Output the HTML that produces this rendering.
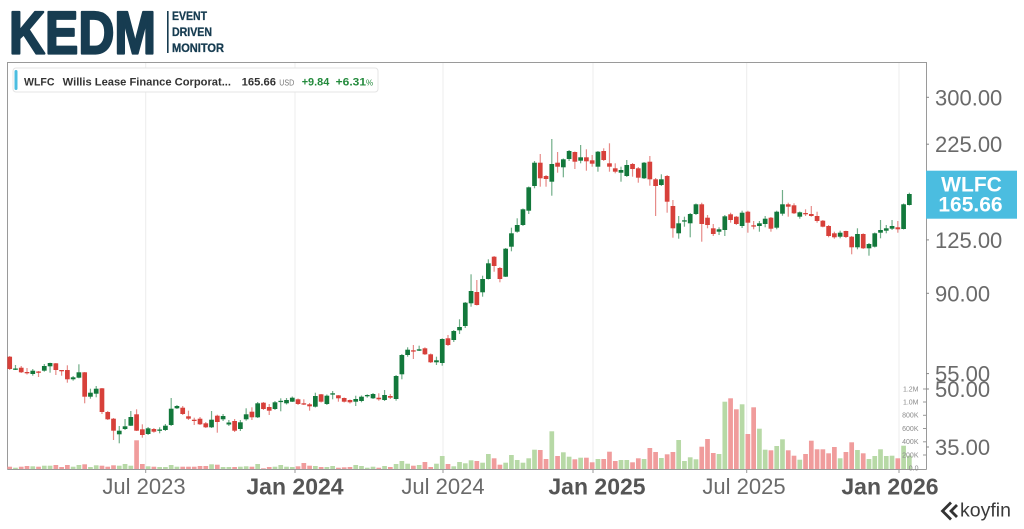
<!DOCTYPE html>
<html>
<head>
<meta charset="utf-8">
<style>
  html,body{margin:0;padding:0;background:#fff;}
  body{width:1024px;height:529px;overflow:hidden;}
  svg{display:block;font-family:"Liberation Sans",Arial,sans-serif;}
</style>
</head>
<body>
<svg id="chart" width="1024" height="529" viewBox="0 0 1024 529" xmlns="http://www.w3.org/2000/svg">
  <rect x="0" y="0" width="1024" height="529" fill="#fff"/>

  <!-- KEDM logo -->
  <text x="9" y="53.5" font-size="60" font-weight="bold" fill="#173c51" stroke="#173c51" stroke-width="2.2" stroke-linejoin="round" textLength="147" lengthAdjust="spacingAndGlyphs">KEDM</text>
  <rect x="167" y="11" width="1.6" height="42" fill="#173c51"/>
  <text x="172" y="20" font-size="11.5" font-weight="bold" fill="#173c51" stroke="#173c51" stroke-width="0.3" textLength="35" lengthAdjust="spacingAndGlyphs">EVENT</text>
  <text x="172" y="36" font-size="11.5" font-weight="bold" fill="#173c51" stroke="#173c51" stroke-width="0.3" textLength="40" lengthAdjust="spacingAndGlyphs">DRIVEN</text>
  <text x="172" y="52" font-size="11.5" font-weight="bold" fill="#173c51" stroke="#173c51" stroke-width="0.3" textLength="52" lengthAdjust="spacingAndGlyphs">MONITOR</text>

  <!-- gridlines -->
  <g stroke="#ececec" stroke-width="1">
    <line x1="145.7" y1="63" x2="145.7" y2="469"/>
    <line x1="295" y1="63" x2="295" y2="469"/>
    <line x1="443" y1="63" x2="443" y2="469"/>
    <line x1="593" y1="63" x2="593" y2="469"/>
    <line x1="746.7" y1="63" x2="746.7" y2="469"/>
    <line x1="899" y1="63" x2="899" y2="469"/>
  </g>

  <!-- frame -->
  <g stroke="#9a9a9a" stroke-width="1" fill="none">
    <line x1="7.5" y1="62.5" x2="926.5" y2="62.5"/>
    <line x1="7.5" y1="62" x2="7.5" y2="469.5"/>
    <line x1="926.5" y1="62" x2="926.5" y2="469.5"/>
    <line x1="7.5" y1="469.5" x2="926.5" y2="469.5"/>
  </g>
  <!-- x ticks -->
  <g stroke="#9a9a9a" stroke-width="1">
    <line x1="145.7" y1="469" x2="145.7" y2="473"/>
    <line x1="295" y1="469" x2="295" y2="473"/>
    <line x1="443" y1="469" x2="443" y2="473"/>
    <line x1="593" y1="469" x2="593" y2="473"/>
    <line x1="746.7" y1="469" x2="746.7" y2="473"/>
    <line x1="899" y1="469" x2="899" y2="473"/>
  </g>

  <!-- volume and candles -->
  <g id="vol"></g>
  <g id="candles"></g>

  <!-- legend -->
  <rect x="13" y="68" width="365" height="24" rx="3" fill="#fff" stroke="#e4e4e4"/>
  <rect x="14.5" y="70" width="3" height="20" rx="1.5" fill="#4bbde0"/>
  <text x="24" y="85.5" font-size="11" font-weight="bold" fill="#333" textLength="30.5" lengthAdjust="spacingAndGlyphs">WLFC</text>
  <text x="62.7" y="85.5" font-size="11" font-weight="bold" fill="#333" textLength="168.3" lengthAdjust="spacingAndGlyphs">Willis Lease Finance Corporat...</text>
  <text x="241.7" y="85.5" font-size="11" font-weight="bold" fill="#333" textLength="34.3" lengthAdjust="spacingAndGlyphs">165.66</text>
  <text x="279.3" y="85.5" font-size="8" fill="#777" textLength="15" lengthAdjust="spacingAndGlyphs">USD</text>
  <text x="301.7" y="85.5" font-size="11" font-weight="bold" fill="#238a3c" textLength="27.6" lengthAdjust="spacingAndGlyphs">+9.84</text>
  <text x="335.7" y="85.5" font-size="11" font-weight="bold" fill="#238a3c" textLength="30.3" lengthAdjust="spacingAndGlyphs">+6.31</text>
  <text x="366" y="85.5" font-size="8" fill="#238a3c">%</text>

  <!-- right price axis -->
  <g stroke="#888" stroke-width="1">
    <line x1="926" y1="97.3" x2="929" y2="97.3"/>
    <line x1="926" y1="144.2" x2="929" y2="144.2"/>
    <line x1="926" y1="239.9" x2="929" y2="239.9"/>
    <line x1="926" y1="293.3" x2="929" y2="293.3"/>
    <line x1="926" y1="373.6" x2="929" y2="373.6"/>
    <line x1="926" y1="389" x2="929" y2="389"/>
    <line x1="926" y1="447" x2="929" y2="447"/>
  </g>
  <g font-size="22" fill="#6a6a6a">
    <text x="935" y="105.3">300.00</text>
    <text x="935" y="152.2">225.00</text>
    <text x="935" y="247.9">125.00</text>
    <text x="935" y="301.3">90.00</text>
    <text x="935" y="381.6">55.00</text>
    <text x="935" y="397">50.00</text>
    <text x="935" y="455">35.00</text>
  </g>

  <!-- WLFC price box -->
  <rect x="926" y="170.7" width="91" height="48" fill="#4bbde0"/>
  <text x="971.5" y="191.5" font-size="21" font-weight="bold" fill="#fff" text-anchor="middle">WLFC</text>
  <text x="970.5" y="211.5" font-size="21" font-weight="bold" fill="#fff" text-anchor="middle">165.66</text>

  <!-- volume axis -->
  <g font-size="7" fill="#8a8a8a" text-anchor="end">
    <text x="918.5" y="391.5">1.2M</text>
    <text x="918.5" y="404.5">1.0M</text>
    <text x="918.5" y="417.7">800K</text>
    <text x="918.5" y="431">600K</text>
    <text x="918.5" y="444">400K</text>
    <text x="918.5" y="457.5">200K</text>
    <text x="918.5" y="470.5">0.0</text>
  </g>
  <g stroke="#999" stroke-width="1">
    <line x1="923" y1="389" x2="926" y2="389"/>
    <line x1="923" y1="402" x2="926" y2="402"/>
    <line x1="923" y1="415.3" x2="926" y2="415.3"/>
    <line x1="923" y1="428.5" x2="926" y2="428.5"/>
    <line x1="923" y1="441.8" x2="926" y2="441.8"/>
    <line x1="923" y1="455" x2="926" y2="455"/>
  </g>

  <!-- x axis labels -->
  <g font-size="22" fill="#6a6a6a" text-anchor="middle">
    <text x="144" y="494">Jul 2023</text>
    <text x="443" y="494">Jul 2024</text>
    <text x="744" y="494">Jul 2025</text>
  </g>
  <g font-size="23" font-weight="bold" fill="#555" text-anchor="middle">
    <text x="295" y="494.5">Jan 2024</text>
    <text x="597" y="494.5">Jan 2025</text>
    <text x="890" y="494.5">Jan 2026</text>
  </g>

  <!-- koyfin logo -->
  <g fill="none" stroke="#333" stroke-width="2.8" stroke-linejoin="miter">
    <polyline points="951,502.5 942.5,511 951,519.5"/>
    <polyline points="957,505 951,511 957,517"/>
  </g>
  <text x="960" y="516.7" font-size="19.5" fill="#3a3a3a" textLength="51" lengthAdjust="spacingAndGlyphs">koyfin</text>
</svg>

<script>
(function(){
var D=[
[356.7,369,356,370],[369.5,368.5,365,370],[367.7,372.3,366,373],[372,373,368,374.5],[374,370.7,369,375.7],
[371.5,372.5,371,377],[370.7,366,364,371.7],[366.3,363,362.7,372.7],[363.3,370,363,375],[370,371,370,375.7],
[370,379.3,365.3,382.7],[379.3,377.3,376,380.7],[377.7,372.3,364.3,378.3],[372.3,396.7,372,403.3],[396.7,392.7,388.7,398.7],
[393.7,388.7,386,397.3],[388.3,412,388,414],[412,419.3,411,420],[418.7,430.7,418,440],[434.3,430.7,426,443.3],
[429,426.3,419,430],[425.7,417,411,426],[414.3,430.7,409.3,431],[429.3,435,424.3,437.7],[434,428.3,427,435],
[429,431.7,428,432.7],[430.5,429.5,427.3,433.3],[430,425.7,424,431],[425,408.7,398,426],[408.3,406,405,409],
[407.7,414,406,415],[416.3,418.7,410.7,420],[419.7,420.3,417.7,425],[418.7,424.3,417,425],[423.3,427.3,422,428],
[427.3,419.7,411,428],[415.7,422,414.7,432.7],[419.3,416,414,421],[424.5,422.5,420,426],[421,430.7,419,432],
[429,422.3,420,431],[419.3,414.3,408.3,420.7],[411.7,417.3,407.3,420],[417.3,403.3,402,418],[402.7,409,402,410],
[407,410.7,404,415],[409,402.3,401,410],[401.5,400.8,398.3,411.3],[403.3,400,398,404.5],[401.7,397.7,396.5,402],
[399.3,404,398.5,405],[403.3,404,399.3,405],[404.3,406.3,403,410.7],[406.7,396,392.7,407.5],[394.3,401.7,394,402.5],
[404,395.7,394.5,405],[394.3,393.3,391,399.3],[395.3,398.3,395,401.7],[398,401.7,397.5,402.5],[400,402.3,399.5,403.5],
[401.7,399,395.7,406],[401,396.7,395.5,402.3],[395.7,395,394.3,397.7],[398.3,394,393,399],[397.7,399.3,393.3,400.7],
[400,395,390,401],[396,397.7,394,399],[399,376,375,400.7],[374.3,355,354,379.3],[355,349.7,347.3,356.7],
[350.3,351,345,359],[350.7,349.3,345.7,351],[348.3,354.3,347.3,355],[354.3,362.3,353.5,363],[362.3,360.3,356.7,365],
[363,339,338.3,365.7],[338.3,345,335,346],[340,331,330,342],[330.3,327,319.3,334],[326,302.7,302,328],
[303.3,291,274.3,306.7],[292,305,280,305.5],[292.3,279,275.7,296.7],[279,263.3,259.3,279.5],[256.7,266,256,271.7],
[268,279,267,282.3],[276.7,248.7,248,277],[246.7,233.3,227.7,251.3],[231.7,225,218.3,232.7],[225,209.3,208.5,226],
[210.7,187.3,186.5,214],[186,162.7,161,188.3],[162.7,178.3,154,186.7],[176,179,175,186.7],[181.7,164,139,195.7],
[162.7,166.7,152,172.7],[167.3,159.3,158.5,177.3],[159,151,150,161],[152,161.7,151.5,169],[160.7,157.3,145,163.3],
[157.3,161.3,149.3,170.7],[160.3,163.7,155,166.7],[166.7,151.7,151,171.7],[151,160,148.3,161],[163.3,166.7,143.3,171.7],
[168.3,171.7,163.3,173.3],[172.7,170,166.7,181.7],[176,165,160,177],[164,169,163,176.7],[168.3,177.7,167,182.7],
[178.3,162.7,162,179],[161.7,179.3,156,185.7],[179.3,186,178,216],[185,179.3,174.3,186],[176,201.7,175,212.7],
[206,228.3,200,237.7],[233.3,223.3,216,238.7],[221.3,220.3,216.7,226.7],[223.3,214,213,237.3],[214,204.3,203.5,215],
[204.3,224,202.7,241.7],[217.7,225,215,228.3],[228.3,234,224,236],[231.7,229.3,227.3,235],[230,216.3,215,236],
[214.3,220,212.7,222.7],[216.7,224,216,225],[226,212.7,210.7,228],[211.7,222.7,210.7,232.7],[225.3,226,221,229.3],
[226,223.3,221,231.7],[224,218.7,216,227.3],[217.7,228.7,217,231.7],[227.7,211.7,210.7,229.3],[213.7,204.3,190,215.7],
[204.3,206.7,202.7,216.7],[205.3,213.3,203.3,214],[216.7,212.3,211.5,218.7],[213,213.7,209.3,216],[214,216,206,216.7],
[216,221,211.7,222.7],[220.7,226.7,220,227.3],[226,236,225,237.3],[233.3,237.3,231.7,238.7],[236.7,232.7,230.7,238.3],
[231,237,230.7,238],[236.7,247.3,236,254.3],[247.3,234,228.3,249.3],[234,248.3,233.3,249],[248.3,244,243,255.7],
[246.7,233.3,232.5,247.5],[232.7,230,220,238.3],[230.7,228.3,225,233.3],[228.7,226,220,230],[227.3,229.3,221,232.7],
[229,204.3,203.5,229.5],[205,194,192.7,205.5]
];
var V=[
466.7,467.7,466.7,466,466.3,466.7,465.7,465.7,465,467,
465,466.7,465,464.3,467,465.3,465.7,466.7,465.3,465.7,
464,465.7,440.3,464,466.3,466.7,467,467,465,466.7,
466.7,466.7,466.7,466,466,464.3,464.7,467,467,467,
466.7,466.3,466.7,464,468.3,467,466.7,465,466.7,467,
466.3,463,465.7,466,467,467,466,467.7,467.3,467,
465,466,467.7,466.7,467.7,466,467,464,461,463.7,
465.7,465,462,467,463.7,456,464,466.3,462,463.3,
460.3,461,462.7,454,458.3,464.7,462.7,455,460,462.7,
458.3,449.7,450,459,431.3,456,452.3,456.7,459.3,457.7,
457.7,462.3,459,459,451.7,461,460,460,462.3,458.3,
459,448,452,458,454.3,452,440,461,457.3,459.3,
446.7,439,453,454,401.7,398.3,409.3,404.3,434,407.3,
428.7,449.7,450.3,446,439.3,450.3,455.7,459.7,454,440.7,
449.3,449.3,453.3,447,458.3,452,442.3,450,453.3,459,
456,449.3,456,455.7,458.3,445.7,455.7
];
var ns='http://www.w3.org/2000/svg';
var gc=document.getElementById('candles'), gv=document.getElementById('vol');
function el(tag,attrs,parent){var e=document.createElementNS(ns,tag);for(var k in attrs)e.setAttribute(k,attrs[k]);parent.appendChild(e);return e;}
var bw=4.7;
for(var i=0;i<D.length;i++){
  var x=9.7+5.767*i, d=D[i], o=d[0], c=d[1], h=d[2], l=d[3];
  var up=c<=o;
  var col=up?'#12783b':'#d7403a';
  var vcol=up?'#b7d9a6':'#f09c9c';
  var vt=(i<V.length)?V[i]:466;
  el('rect',{x:(x-bw/2).toFixed(2),y:vt,width:bw,height:Math.max(469-vt,0.5),fill:vcol},gv);
  var top=Math.min(h,o,c), bot=Math.max(l,o,c);
  el('line',{x1:x.toFixed(2),y1:top,x2:x.toFixed(2),y2:bot,stroke:col,'stroke-width':1.2,'stroke-opacity':0.6},gc);
  var by=Math.min(o,c), bh=Math.max(Math.abs(o-c),1.3);
  el('rect',{x:(x-bw/2).toFixed(2),y:by,width:bw,height:bh,fill:col},gc);
}
})();
</script>
</body>
</html>
